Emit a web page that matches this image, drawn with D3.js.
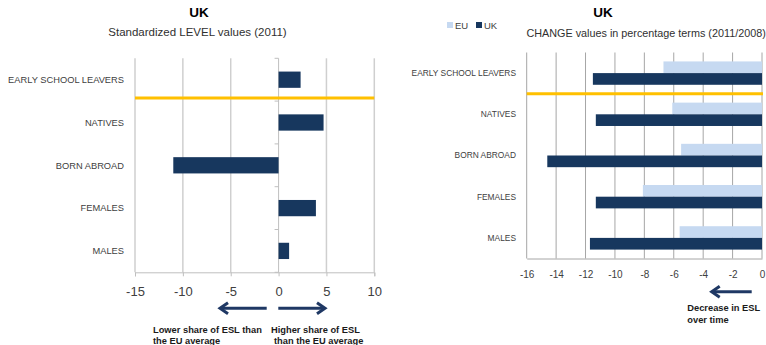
<!DOCTYPE html>
<html>
<head>
<meta charset="utf-8">
<script src="https://cdn.jsdelivr.net/npm/d3@7"></script>
<style>
  body { margin: 0; background: #fff; }
  svg { display: block; }
  text { font-family: "Liberation Sans", Arial, sans-serif; }
</style>
</head>
<body>
<svg id="chart" width="766" height="345"></svg>
<script>
// Early school leavers (ESL), United Kingdom
const categories = ["EARLY SCHOOL LEAVERS", "NATIVES", "BORN ABROAD", "FEMALES", "MALES"];
// Standardized level values, 2011 (UK relative to EU average)
const levelUK = [2.3, 4.7, -11.0, 3.9, 1.1];
// Change in percentage terms, 2011/2008
const changeEU = [-6.7, -6.1, -5.5, -8.1, -5.6];
const changeUK = [-11.5, -11.3, -14.6, -11.3, -11.7];
const seriesNames = ["EU", "UK"];
const levelTicks = [-15, -10, -5, 0, 5, 10];
const changeTicks = [-16, -14, -12, -10, -8, -6, -4, -2, 0];

const NAVY = "#17375E";
const LIGHT = "#C6D9F1";
const GOLD = "#FFC000";
const LABEL = "#404040";
const ARROW = "#1F3864";

// plain hyphen-minus for negative tick labels
const plainFormat = d => String(d);

const svg = d3.select("#chart");

// ---------- Left panel: level values ----------
const L = { left: 135, right: 374.3, top: 58.3, bottom: 272.3 };
const x1 = d3.scaleLinear().domain([-15, 10]).range([L.left, L.right]);
const y1 = d3.scaleBand().domain(categories).range([L.top, L.bottom]);
const g1 = svg.append("g");

g1.selectAll("line.grid").data(levelTicks.filter(t => t !== 0)).join("line")
  .attr("class", "grid")
  .attr("x1", d => x1(d)).attr("x2", d => x1(d))
  .attr("y1", L.top).attr("y2", L.bottom)
  .attr("stroke", "#cfcfcf").attr("stroke-width", 1.5);

// vertical category axis sitting at zero
g1.append("line")
  .attr("x1", x1(0)).attr("x2", x1(0)).attr("y1", L.top).attr("y2", L.bottom)
  .attr("stroke", "#bfbfbf").attr("stroke-width", 1);
const bounds1 = categories.map(c => y1(c)).concat([L.bottom]);
g1.selectAll("line.ytick").data(bounds1).join("line")
  .attr("class", "ytick")
  .attr("x1", x1(0) - 4).attr("x2", x1(0))
  .attr("y1", d => d).attr("y2", d => d)
  .attr("stroke", "#bfbfbf");

const ax1 = g1.append("g")
  .attr("transform", `translate(0,${L.bottom})`)
  .call(d3.axisBottom(x1).tickValues(levelTicks).tickSize(4).tickPadding(10).tickFormat(plainFormat));
ax1.select(".domain").attr("stroke", "#bfbfbf");
ax1.selectAll(".tick line").attr("stroke", "#bfbfbf");
ax1.selectAll(".tick text").attr("font-size", 13).attr("fill", LABEL)
  .attr("font-family", "'Liberation Sans', Arial, sans-serif");

const bw1 = y1.bandwidth();
g1.selectAll("rect.bar").data(categories).join("rect")
  .attr("class", "bar")
  .attr("x", (c, i) => x1(Math.min(0, levelUK[i])))
  .attr("width", (c, i) => Math.abs(x1(levelUK[i]) - x1(0)))
  .attr("y", c => y1(c) + bw1 * 0.31)
  .attr("height", bw1 * 0.38)
  .attr("fill", NAVY);

g1.selectAll("text.cat").data(categories).join("text")
  .attr("class", "cat")
  .attr("x", 124).attr("y", c => y1(c) + bw1 / 2).attr("dy", "0.35em")
  .attr("text-anchor", "end").attr("font-size", 9.3).attr("fill", LABEL)
  .text(c => c);

// separator under the headline indicator
g1.append("line")
  .attr("x1", L.left).attr("x2", L.right)
  .attr("y1", y1(categories[1]) - 3).attr("y2", y1(categories[1]) - 3)
  .attr("stroke", GOLD).attr("stroke-width", 3);

g1.append("text").attr("x", 199).attr("y", 16.7).attr("text-anchor", "middle")
  .attr("font-size", 13.5).attr("font-weight", "bold").attr("fill", "#000").text("UK");
g1.append("text").attr("x", 197.5).attr("y", 35.7).attr("text-anchor", "middle")
  .attr("font-size", 11.5).attr("fill", "#303030").text("Standardized LEVEL values (2011)");

// ---------- Right panel: change values ----------
const R = { left: 526.7, right: 762, top: 52.5, bottom: 258.5 };
const x2 = d3.scaleLinear().domain([-16, 0]).range([R.left, R.right]);
const y2 = d3.scaleBand().domain(categories).range([R.top, R.bottom]);
const bw2 = y2.bandwidth();
const groupH = bw2 * 0.567;
const inner = d3.scaleBand().domain(seriesNames).range([(bw2 - groupH) / 2, (bw2 + groupH) / 2]);
const g2 = svg.append("g");

g2.selectAll("line.grid").data(changeTicks).join("line")
  .attr("class", "grid")
  .attr("x1", d => x2(d)).attr("x2", d => x2(d))
  .attr("y1", R.top).attr("y2", R.bottom)
  .attr("stroke", "#a6a6a6").attr("stroke-width", 1);

const ax2 = g2.append("g")
  .attr("transform", `translate(0,${R.bottom})`)
  .call(d3.axisBottom(x2).tickValues(changeTicks).tickSize(0).tickPadding(12).tickFormat(plainFormat));
ax2.select(".domain").attr("stroke", "#a6a6a6");
ax2.selectAll(".tick text").attr("font-size", 10).attr("fill", LABEL)
  .attr("font-family", "'Liberation Sans', Arial, sans-serif");

const seriesData = [
  { name: "EU", values: changeEU, color: LIGHT },
  { name: "UK", values: changeUK, color: NAVY }
];
seriesData.forEach(s => {
  g2.selectAll(`rect.bar-${s.name}`).data(categories).join("rect")
    .attr("class", `bar-${s.name}`)
    .attr("x", (c, i) => x2(Math.min(0, s.values[i])))
    .attr("width", (c, i) => Math.abs(x2(s.values[i]) - x2(0)))
    .attr("y", c => y2(c) + inner(s.name))
    .attr("height", inner.bandwidth())
    .attr("fill", s.color);
});

g2.selectAll("text.cat").data(categories).join("text")
  .attr("class", "cat")
  .attr("x", 516).attr("y", c => y2(c) + bw2 / 2).attr("dy", "0.35em")
  .attr("text-anchor", "end").attr("font-size", 8.4).attr("fill", LABEL)
  .text(c => c);

g2.append("line")
  .attr("x1", R.left).attr("x2", R.right + 1)
  .attr("y1", y2(categories[1])).attr("y2", y2(categories[1]))
  .attr("stroke", GOLD).attr("stroke-width", 3);

g2.append("text").attr("x", 603).attr("y", 16.5).attr("text-anchor", "middle")
  .attr("font-size", 13.5).attr("font-weight", "bold").attr("fill", "#000").text("UK");
g2.append("text").attr("x", 526.5).attr("y", 36.5).attr("text-anchor", "start")
  .attr("font-size", 10.8).attr("fill", "#303030").text("CHANGE values in percentage terms (2011/2008)");

// legend
const legend = g2.append("g").attr("transform", "translate(447,22)");
const legX = [0, 29];
seriesData.forEach((s, i) => {
  legend.append("rect").attr("x", legX[i]).attr("y", 0).attr("width", 6).attr("height", 6).attr("fill", s.color);
  legend.append("text").attr("x", legX[i] + 8).attr("y", 7).attr("font-size", 9.5)
    .attr("fill", LABEL).text(s.name);
});

// ---------- Annotation arrows ----------
function arrow(xFrom, xTo, y) {
  const dir = xTo > xFrom ? 1 : -1;
  svg.append("line").attr("x1", xFrom).attr("x2", xTo - dir * 1.5).attr("y1", y).attr("y2", y)
    .attr("stroke", ARROW).attr("stroke-width", 3);
  svg.append("path")
    .attr("d", `M${xTo - dir * 8},${y - 5.5} L${xTo},${y} L${xTo - dir * 8},${y + 5.5}`)
    .attr("fill", "none").attr("stroke", ARROW).attr("stroke-width", 3)
    .attr("stroke-linejoin", "miter").attr("stroke-linecap", "butt");
}
arrow(266.7, 220, 308.3);
arrow(278.3, 325, 308.3);
arrow(751.7, 711.7, 291.7);

function note(lines, x, y, anchor) {
  lines.forEach((t, i) => {
    svg.append("text").attr("x", x[i]).attr("y", y + i * 11.8)
      .attr("text-anchor", anchor).attr("font-size", 9.3).attr("font-weight", "bold")
      .attr("fill", "#1a1a1a").text(t);
  });
}
note(["Lower share of ESL than", "the EU average"], [153, 153], 332.5, "start");
note(["Higher share of ESL", "than the EU average"], [271, 274], 332.5, "start");
note(["Decrease in ESL", "over time"], [687.3, 687.3], 311, "start");
</script>
</body>
</html>
